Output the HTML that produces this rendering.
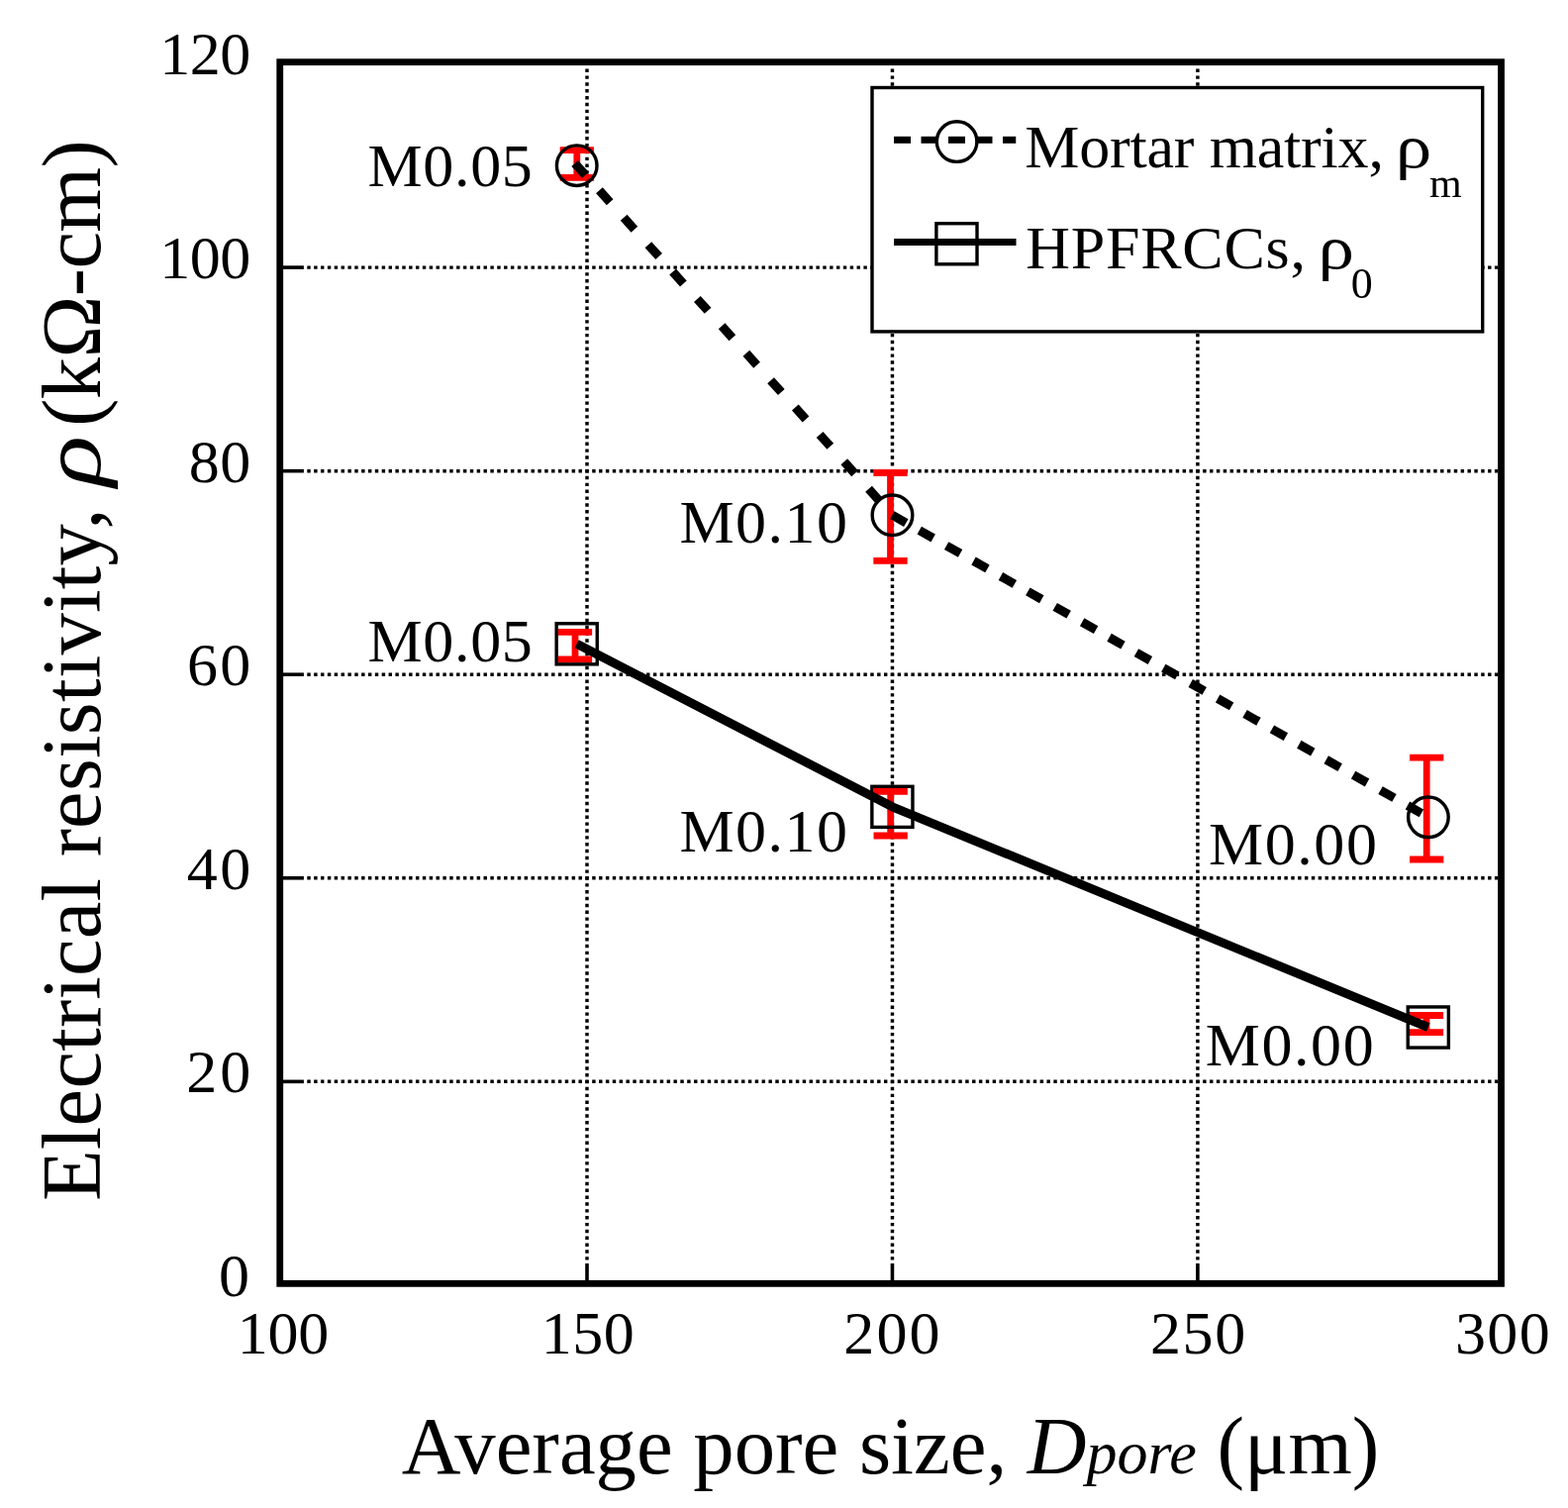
<!DOCTYPE html>
<html><head><meta charset="utf-8"><title>Electrical resistivity vs average pore size</title>
<style>html,body{margin:0;padding:0;background:#fff;overflow:hidden;}svg{display:block;}text{font-family:"Liberation Serif","Times New Roman",serif;fill:#000;}</style></head><body>
<svg width="1584" height="1523" viewBox="0 0 1584 1523">
<rect x="0" y="0" width="1584" height="1523" fill="#fff"/>
<g stroke="#000" stroke-width="3.45" stroke-dasharray="3.43 3.425" fill="none"><line x1="593.00" y1="69.53" x2="593.00" y2="1274" /><line x1="901.45" y1="69.53" x2="901.45" y2="1274" /><line x1="1209.90" y1="69.53" x2="1209.90" y2="1274" /><line x1="310.29" y1="1092.34" x2="1513" y2="1092.34" /><line x1="310.29" y1="886.78" x2="1513" y2="886.78" /><line x1="310.29" y1="681.22" x2="1513" y2="681.22" /><line x1="310.29" y1="475.66" x2="1513" y2="475.66" /><line x1="310.29" y1="270.10" x2="1513" y2="270.10" /></g>
<g stroke="#000" stroke-width="3.6" fill="none"><line x1="285" y1="1092.34" x2="306.9" y2="1092.34"/><line x1="285" y1="886.78" x2="306.9" y2="886.78"/><line x1="285" y1="681.22" x2="306.9" y2="681.22"/><line x1="285" y1="475.66" x2="306.9" y2="475.66"/><line x1="285" y1="270.10" x2="306.9" y2="270.10"/><line x1="593.00" y1="1276" x2="593.00" y2="1294"/><line x1="901.45" y1="1276" x2="901.45" y2="1294"/><line x1="1209.90" y1="1276" x2="1209.90" y2="1294"/></g>
<rect x="881" y="88.5" width="616.7" height="246.4" fill="#fff" stroke="#000" stroke-width="3.4"/>
<g stroke="#000" stroke-width="7" fill="none">
<line x1="903" y1="141.3" x2="920" y2="141.3"/>
<line x1="930.5" y1="141.3" x2="947.5" y2="141.3"/>
<line x1="958" y1="141.3" x2="975" y2="141.3"/>
<line x1="985.5" y1="141.3" x2="1002.5" y2="141.3"/>
<line x1="1013" y1="141.3" x2="1026.25" y2="141.3"/>
</g>
<circle cx="966.6" cy="143.1" r="20.3" fill="none" stroke="#000" stroke-width="3.4"/>
<line x1="903.1" y1="244.4" x2="1026.5" y2="244.4" stroke="#000" stroke-width="7"/>
<rect x="945.9" y="225.7" width="41.1" height="41.1" fill="none" stroke="#000" stroke-width="3.4"/>
<text x="1035.21" y="168.5" font-size="62" textLength="362.69" lengthAdjust="spacing">Mortar matrix,</text>
<text x="1036.21" y="271" font-size="62" textLength="282.69" lengthAdjust="spacing">HPFRCCs,</text>
<text transform="translate(1409.78,168.5) scale(1.18,1)" font-size="62">ρ</text>
<text transform="translate(1331.58,271) scale(1.18,1)" font-size="62">ρ</text>
<text x="1443.9" y="198.6" font-size="42">m</text>
<text x="1364.8" y="301.3" font-size="44">0</text>
<g stroke="#f00" stroke-width="6.8" fill="none"><line x1="582.8" y1="151.7" x2="582.8" y2="179.4"/><line x1="565.65" y1="151.7" x2="599.95" y2="151.7"/><line x1="565.65" y1="179.4" x2="599.95" y2="179.4"/><line x1="899.5" y1="477.5" x2="899.5" y2="566.4"/><line x1="882.35" y1="477.5" x2="916.65" y2="477.5"/><line x1="882.35" y1="566.4" x2="916.65" y2="566.4"/><line x1="1441.2" y1="765.15" x2="1441.2" y2="868.0"/><line x1="1424.05" y1="765.15" x2="1458.35" y2="765.15"/><line x1="1424.05" y1="868.0" x2="1458.35" y2="868.0"/><line x1="581.0" y1="638.4" x2="581.0" y2="665.8"/><line x1="563.85" y1="638.4" x2="598.15" y2="638.4"/><line x1="563.85" y1="665.8" x2="598.15" y2="665.8"/><line x1="899.7" y1="799.4" x2="899.7" y2="844.0"/><line x1="882.55" y1="799.4" x2="916.85" y2="799.4"/><line x1="882.55" y1="844.0" x2="916.85" y2="844.0"/><line x1="1441.0" y1="1025.5" x2="1441.0" y2="1042.7"/><line x1="1423.85" y1="1025.5" x2="1458.15" y2="1025.5"/><line x1="1423.85" y1="1042.7" x2="1458.15" y2="1042.7"/></g>
<g stroke="#000" stroke-width="9.0" fill="none"><line x1="580.68" y1="164.96" x2="591.40" y2="176.84"/><line x1="605.42" y1="192.36" x2="616.14" y2="204.24"/><line x1="630.16" y1="219.76" x2="640.88" y2="231.64"/><line x1="654.89" y1="247.16" x2="665.62" y2="259.04"/><line x1="679.63" y1="274.56" x2="690.36" y2="286.44"/><line x1="704.37" y1="301.96" x2="715.09" y2="313.84"/><line x1="729.11" y1="329.36" x2="739.83" y2="341.24"/><line x1="753.85" y1="356.76" x2="764.57" y2="368.64"/><line x1="778.59" y1="384.16" x2="789.31" y2="396.04"/><line x1="803.32" y1="411.56" x2="814.05" y2="423.44"/><line x1="828.06" y1="438.96" x2="838.79" y2="450.84"/><line x1="852.80" y1="466.36" x2="863.52" y2="478.24"/><line x1="877.54" y1="493.76" x2="888.26" y2="505.64"/><line x1="901.33" y1="520.20" x2="915.27" y2="528.06"/><line x1="928.73" y1="535.64" x2="942.67" y2="543.50"/><line x1="956.13" y1="551.08" x2="970.07" y2="558.94"/><line x1="983.53" y1="566.52" x2="997.47" y2="574.37"/><line x1="1010.93" y1="581.96" x2="1024.87" y2="589.81"/><line x1="1038.33" y1="597.40" x2="1052.27" y2="605.25"/><line x1="1065.73" y1="612.83" x2="1079.67" y2="620.69"/><line x1="1093.13" y1="628.27" x2="1107.07" y2="636.13"/><line x1="1120.53" y1="643.71" x2="1134.47" y2="651.57"/><line x1="1147.93" y1="659.15" x2="1161.87" y2="667.00"/><line x1="1175.33" y1="674.59" x2="1189.27" y2="682.44"/><line x1="1202.73" y1="690.03" x2="1216.67" y2="697.88"/><line x1="1230.13" y1="705.47" x2="1244.07" y2="713.32"/><line x1="1257.53" y1="720.90" x2="1271.47" y2="728.76"/><line x1="1284.93" y1="736.34" x2="1298.87" y2="744.20"/><line x1="1312.33" y1="751.78" x2="1326.27" y2="759.64"/><line x1="1339.73" y1="767.22" x2="1353.67" y2="775.07"/><line x1="1367.13" y1="782.66" x2="1381.07" y2="790.51"/><line x1="1394.53" y1="798.10" x2="1408.47" y2="805.95"/><line x1="1421.93" y1="813.53" x2="1435.87" y2="821.39"/></g>
<polyline points="582.7,650.3 901.4,814.85 1442.8,1037.5" stroke="#000" stroke-width="9.0" fill="none" stroke-linejoin="round"/>
<circle cx="582.7" cy="167.2" r="20.3" fill="none" stroke="#000" stroke-width="3.4"/>
<circle cx="901.5" cy="520.3" r="20.3" fill="none" stroke="#000" stroke-width="3.4"/>
<circle cx="1442.9" cy="825.35" r="20.3" fill="none" stroke="#000" stroke-width="3.4"/>
<rect x="562.15" y="629.75" width="41.1" height="41.1" fill="none" stroke="#000" stroke-width="3.4"/>
<rect x="880.85" y="794.30" width="41.1" height="41.1" fill="none" stroke="#000" stroke-width="3.4"/>
<rect x="1422.25" y="1016.95" width="41.1" height="41.1" fill="none" stroke="#000" stroke-width="3.4"/>
<rect x="282.75" y="62.7" width="1233.75" height="1233.65" fill="none" stroke="#000" stroke-width="6.8"/>
<text x="371.5" y="188.0" font-size="62" textLength="166.3" lengthAdjust="spacing">M0.05</text>
<text x="686.5" y="548.0" font-size="62" textLength="169.4" lengthAdjust="spacing">M0.10</text>
<text x="1220.9" y="873.0" font-size="62" textLength="170.0" lengthAdjust="spacing">M0.00</text>
<text x="371.5" y="668.2" font-size="62" textLength="166.3" lengthAdjust="spacing">M0.05</text>
<text x="686.5" y="860.2" font-size="62" textLength="169.4" lengthAdjust="spacing">M0.10</text>
<text x="1217.7" y="1075.6" font-size="62" textLength="170.0" lengthAdjust="spacing">M0.00</text>
<text x="161.25" y="75.3" font-size="62" textLength="92.11" lengthAdjust="spacing">120</text>
<text x="161.25" y="280.9" font-size="62" textLength="92.11" lengthAdjust="spacing">100</text>
<text x="190.84" y="486.5" font-size="62" textLength="62.52" lengthAdjust="spacing">80</text>
<text x="188.94" y="692.0" font-size="62" textLength="64.43" lengthAdjust="spacing">60</text>
<text x="188.79" y="897.6" font-size="62" textLength="64.57" lengthAdjust="spacing">40</text>
<text x="188.18" y="1103.1" font-size="62" textLength="65.19" lengthAdjust="spacing">20</text>
<text x="220.90" y="1308.7" font-size="62">0</text>
<text x="239.65" y="1366.5" font-size="62" textLength="92.61" lengthAdjust="spacing">100</text>
<text x="546.65" y="1366.5" font-size="62" textLength="94.21" lengthAdjust="spacing">150</text>
<text x="852.28" y="1366.5" font-size="62" textLength="97.29" lengthAdjust="spacing">200</text>
<text x="1161.88" y="1366.5" font-size="62" textLength="96.29" lengthAdjust="spacing">250</text>
<text x="1469.98" y="1366.5" font-size="62" textLength="95.78" lengthAdjust="spacing">300</text>
<text class="tt" x="899.5" y="1487.5" font-size="82.7" text-anchor="middle">Average pore size, <tspan font-style="italic">D</tspan><tspan font-style="italic" font-size="62">pore</tspan> (μm)</text>
<g transform="translate(101,0) rotate(-90)">
<text class="tt" x="-1213.04" y="0" font-size="84.6" textLength="699.67" lengthAdjust="spacing">Electrical resistivity,</text>
<text class="tt" x="-430.72" y="0" font-size="84.6" textLength="289.44" lengthAdjust="spacing">(kΩ-cm)</text>
<text class="tt" transform="translate(-494.30,0) scale(1.27,1)" x="2.15" y="0" font-size="84.6" font-style="italic">ρ</text>
</g>
</svg></body></html>
